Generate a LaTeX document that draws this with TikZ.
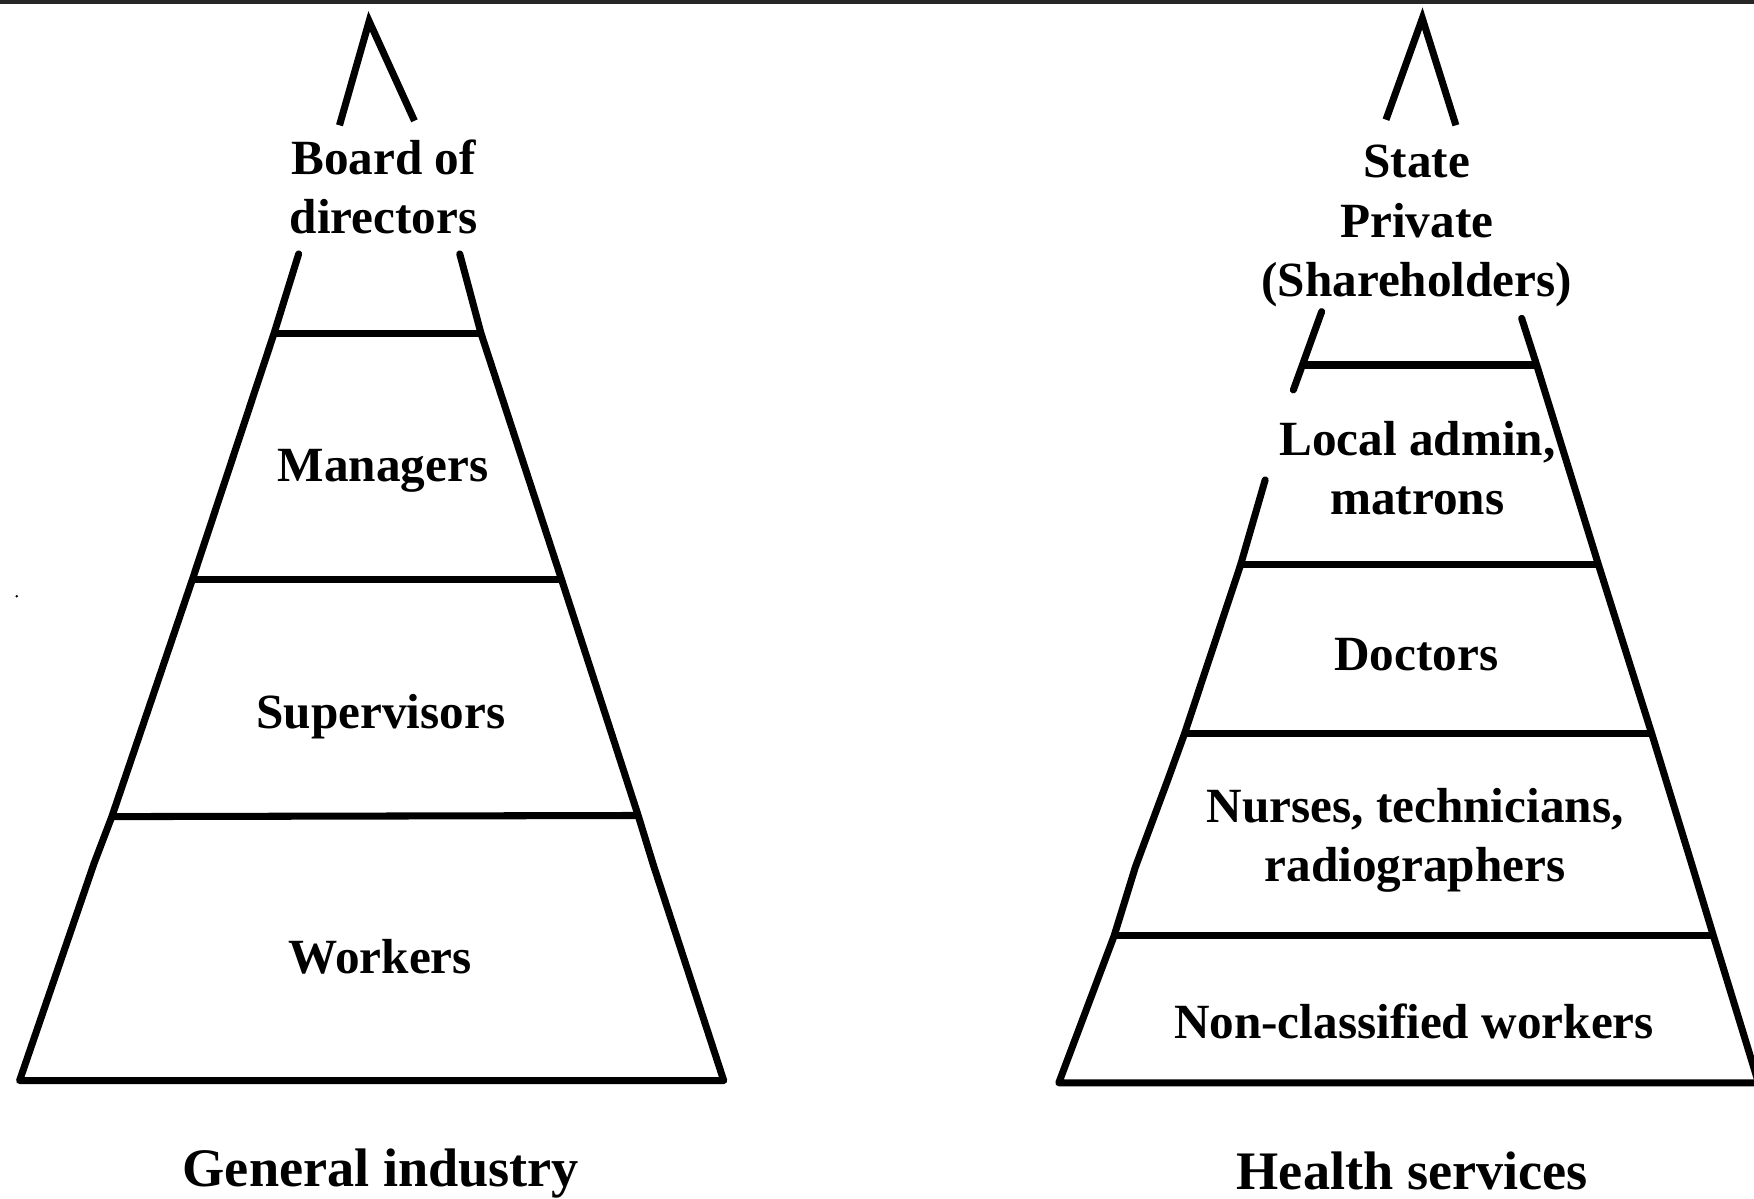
\documentclass[tikz,border=0pt]{standalone}
\usepackage{fontspec}
\setmainfont{Liberation Serif}
\newcommand\lblfont{\fontsize{44}{53}\selectfont\bfseries}
\newcommand\capfont{\fontsize{48.5}{58}\selectfont\bfseries}
\begin{document}
\begin{tikzpicture}[x=1pt,y=-1pt,
  leg/.style={line width=6.3pt,line cap=round,line join=round},
  tier/.style={line width=6.3pt,line cap=butt},
  tierlabel/.style={font=\lblfont,align=center,anchor=base,inner sep=0pt},
  caption/.style={font=\capfont,anchor=base,inner sep=0pt}]
\useasboundingbox (0,0) rectangle (1568,1071);
\fill[white] (0,0) rectangle (1568,1071);

% rule along the top edge
\coordinate (ruleL) at (0,1.8);
\coordinate (ruleR) at (1568,1.8);
\draw[line width=3.6pt,black!85] (ruleL) -- (ruleR);

% stray speck on the left margin
\fill (15,533) circle (1.3);

% ================= General industry =================
\coordinate (gA)  at (330,19);
\coordinate (gAl) at (303.5,112);
\coordinate (gAr) at (370.5,108);
\draw[leg,line join=miter,line cap=butt] (gAl) -- (gA) -- (gAr);

% left side
\coordinate (gL0) at (267,227);
\coordinate (gL1) at (245,298);
\coordinate (gL2) at (172,518);
\coordinate (gL3) at (100,730);
\coordinate (gLk) at (84,772);
\coordinate (gL4) at (17.5,966);
% right side
\coordinate (gR0) at (411,227);
\coordinate (gR1) at (430,298);
\coordinate (gR2) at (502,518);
\coordinate (gR3) at (570.5,729);
\coordinate (gRk) at (584,773);
\coordinate (gR4) at (647,966);

\draw[leg] (gL0) -- (gL1) -- (gL2) -- (gL3) -- (gLk) -- (gL4) -- (gR4)
           -- (gRk) -- (gR3) -- (gR2) -- (gR1) -- (gR0);
\draw[tier] (gL1) -- (gR1);
\draw[tier] (gL2) -- (gR2);
\draw[tier] (gL3) -- (gR3);

% multi-line labels sit on the baseline of their last line
\node[tierlabel] (board) at (343,209) {Board of\\directors};
\node[tierlabel] (managers) at (342.5,430) {Managers};
\node[tierlabel] (supervisors) at (340.5,651) {Supervisors};
\node[tierlabel] (workers) at (340,870) {Workers};
\node[caption] (general) at (340.5,1061) {General industry};

% ================= Health services =================
\coordinate (hA)  at (1271.5,16.5);
\coordinate (hAl) at (1239,107);
\coordinate (hAr) at (1301.5,112);
\draw[leg,line join=miter,line cap=butt] (hAl) -- (hA) -- (hAr);

% short upper piece of the left side
\coordinate (hU0) at (1181.5,278.6);
\coordinate (hU1) at (1164.3,326.3);
\coordinate (hU2) at (1156.2,348.6);
\draw[leg] (hU0) -- (hU1) -- (hU2);

% lower left side
\coordinate (hL0) at (1131,429);
\coordinate (hL1) at (1109,505);
\coordinate (hL2) at (1059,655.6);
\coordinate (hL3) at (1044,697);
\coordinate (hLk) at (1015,775);
\coordinate (hL4) at (996,836.5);
\coordinate (hL5) at (946.5,968);
% right side, running off the page at the bottom corner
\coordinate (hR0) at (1360.3,284.6);
\coordinate (hR1) at (1373.7,326.3);
\coordinate (hR2) at (1429,505);
\coordinate (hR3) at (1476.5,655.6);
\coordinate (hRk) at (1513,774.8);
\coordinate (hR4) at (1531.7,836.5);
\coordinate (hR5) at (1572,968);

\draw[leg] (hL0) -- (hL1) -- (hL2) -- (hL3) -- (hLk) -- (hL4) -- (hL5) -- (hR5);
\draw[leg] (hR0) -- (hR1) -- (hR2) -- (hR3) -- (hRk) -- (hR4) -- (hR5);
\draw[tier] (hU1) -- (hR1);
\draw[tier] (hL1) -- (hR2);
\draw[tier] (hL2) -- (hR3);
\draw[tier] (hL4) -- (hR4);

\node[tierlabel] (owners) at (1266.5,265) {State\\Private\\(Shareholders)};
\node[tierlabel] (admin) at (1267,460) {Local admin,\\matrons};
\node[tierlabel] (doctors) at (1266,599) {Doctors};
\node[tierlabel] (nurses) at (1265,788) {Nurses, technicians,\\radiographers};
\node[tierlabel] (nonclass) at (1264,928) {Non-classified workers};
\node[caption] (health) at (1262.5,1063) {Health services};
\end{tikzpicture}
\end{document}
